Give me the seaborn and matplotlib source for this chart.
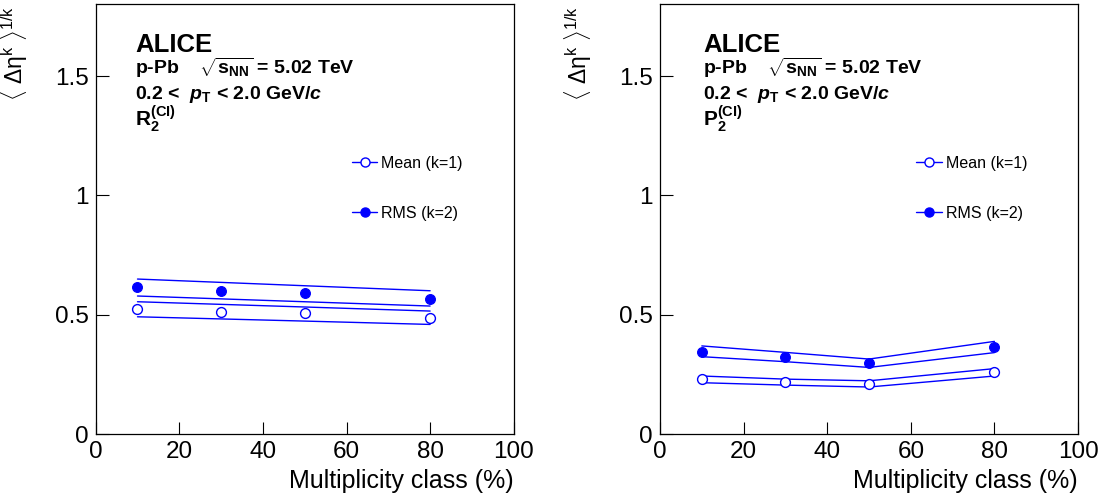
import numpy as np
import pandas as pd
import matplotlib.pyplot as plt
from matplotlib.lines import Line2D
import seaborn as sns

sns.set_style('ticks')
plt.rcParams['font.family'] = ['Liberation Sans', 'DejaVu Sans']
plt.rcParams['mathtext.fontset'] = 'custom'
plt.rcParams['mathtext.rm'] = 'Liberation Sans'
plt.rcParams['mathtext.it'] = 'Liberation Sans:italic'
plt.rcParams['mathtext.bf'] = 'Liberation Sans:bold'
plt.rcParams['mathtext.bfit'] = 'Liberation Sans:italic:bold'
for k in ['text.color', 'axes.labelcolor', 'xtick.color', 'ytick.color', 'axes.edgecolor']:
    plt.rcParams[k] = 'black'

# multiplicity classes (%)
mult = [10, 30, 50, 80]

# R2(CI) panel
r2_mean = [0.523, 0.513, 0.506, 0.488]
r2_mean_hi = [0.555, 0.544, 0.533, 0.516]
r2_mean_lo = [0.492, 0.483, 0.474, 0.460]
r2_rms = [0.615, 0.601, 0.591, 0.566]
r2_rms_hi = [0.650, 0.636, 0.622, 0.601]
r2_rms_lo = [0.579, 0.567, 0.555, 0.537]

# P2(CI) panel
p2_mean = [0.230, 0.220, 0.212, 0.260]
p2_mean_hi = [0.244, 0.231, 0.224, 0.275]
p2_mean_lo = [0.216, 0.206, 0.198, 0.244]
p2_rms = [0.346, 0.325, 0.300, 0.367]
p2_rms_hi = [0.370, 0.343, 0.315, 0.389]
p2_rms_lo = [0.325, 0.304, 0.280, 0.342]

panels = [
    ('R', r2_mean, r2_mean_hi, r2_mean_lo, r2_rms, r2_rms_hi, r2_rms_lo),
    ('P', p2_mean, p2_mean_hi, p2_mean_lo, p2_rms, p2_rms_hi, p2_rms_lo),
]

blue = '#0000ff'
fig = plt.figure(figsize=(11.05, 5.04), dpi=100)
ax_pos = [[0.0866, 0.1383, 0.3783, 0.853], [0.5973, 0.1383, 0.3783, 0.853]]

for (name, m, m_hi, m_lo, r, r_hi, r_lo), pos in zip(panels, ax_pos):
    ax = fig.add_axes(pos)

    # systematic band edges drawn as lines
    bands = pd.DataFrame({
        'mult': mult * 4,
        'val': m_hi + m_lo + r_hi + r_lo,
        'band': ['mhi'] * 4 + ['mlo'] * 4 + ['rhi'] * 4 + ['rlo'] * 4,
    })
    sns.lineplot(data=bands, x='mult', y='val', units='band', estimator=None,
                 color=blue, linewidth=1.0, ax=ax)

    sns.scatterplot(x=mult, y=r, marker='o', s=50, color=blue,
                    edgecolor=blue, linewidth=0.8, ax=ax, zorder=3)
    sns.scatterplot(x=mult, y=m, marker='o', s=50, facecolor='white',
                    edgecolor=blue, linewidth=1.0, ax=ax, zorder=3)

    ax.set_xlim(0, 100)
    ax.set_ylim(0, 1.8)
    ax.set_xticks([0, 20, 40, 60, 80, 100])
    ax.set_yticks([0, 0.5, 1, 1.5])
    ax.set_yticklabels(['0', '0.5', '1', '1.5'])
    ax.tick_params(direction='in', length=9, width=0.8, labelsize=17.5, pad=5)
    for sp in ax.spines.values():
        sp.set_linewidth(0.9)
        sp.set_visible(True)

    ax.set_xlabel('Multiplicity class (%)', fontsize=18, loc='right', labelpad=4)
    ax.set_ylabel(r'$\langle\ \mathrm{\Delta\eta}^{\mathrm{k}}\ \rangle^{\mathrm{1/k}}$',
                  fontsize=16.5, loc='top')
    ax.yaxis.set_label_coords(-0.158, 0.997)

    tx = 0.095 if name == 'R' else 0.103
    ax.text(tx, 0.889, 'ALICE', transform=ax.transAxes, fontsize=18.5,
            fontweight='bold')
    ax.text(tx, 0.839, r'p-Pb    $\sqrt{\mathbf{s}_{\mathbf{NN}}}$ = 5.02 TeV',
            transform=ax.transAxes, fontsize=14, fontweight='bold')
    ax.text(tx, 0.780, r'0.2 <  $\mathbfit{p}_{\mathbf{T}}$ < 2.0 GeV/$\mathbfit{c}$',
            transform=ax.transAxes, fontsize=14, fontweight='bold')
    ax.text(tx, 0.717, r'$\mathbf{%s}_{\mathbf{2}}^{\mathbf{(CI)}}$' % name,
            transform=ax.transAxes, fontsize=15, fontweight='bold')

    handles = [
        Line2D([], [], color=blue, lw=1.0, marker='o', markersize=6.5,
               markerfacecolor='white', markeredgecolor=blue),
        Line2D([], [], color=blue, lw=1.0, marker='o', markersize=6.5),
    ]
    ax.legend(handles, ['Mean (k=1)', 'RMS (k=2)'], loc='upper left',
              bbox_to_anchor=(0.613, 0.648), frameon=False, fontsize=11.5,
              handlelength=1.6, handletextpad=0.25, labelspacing=2.2,
              borderpad=0, borderaxespad=0)

fig.savefig('out.png', dpi=100)
